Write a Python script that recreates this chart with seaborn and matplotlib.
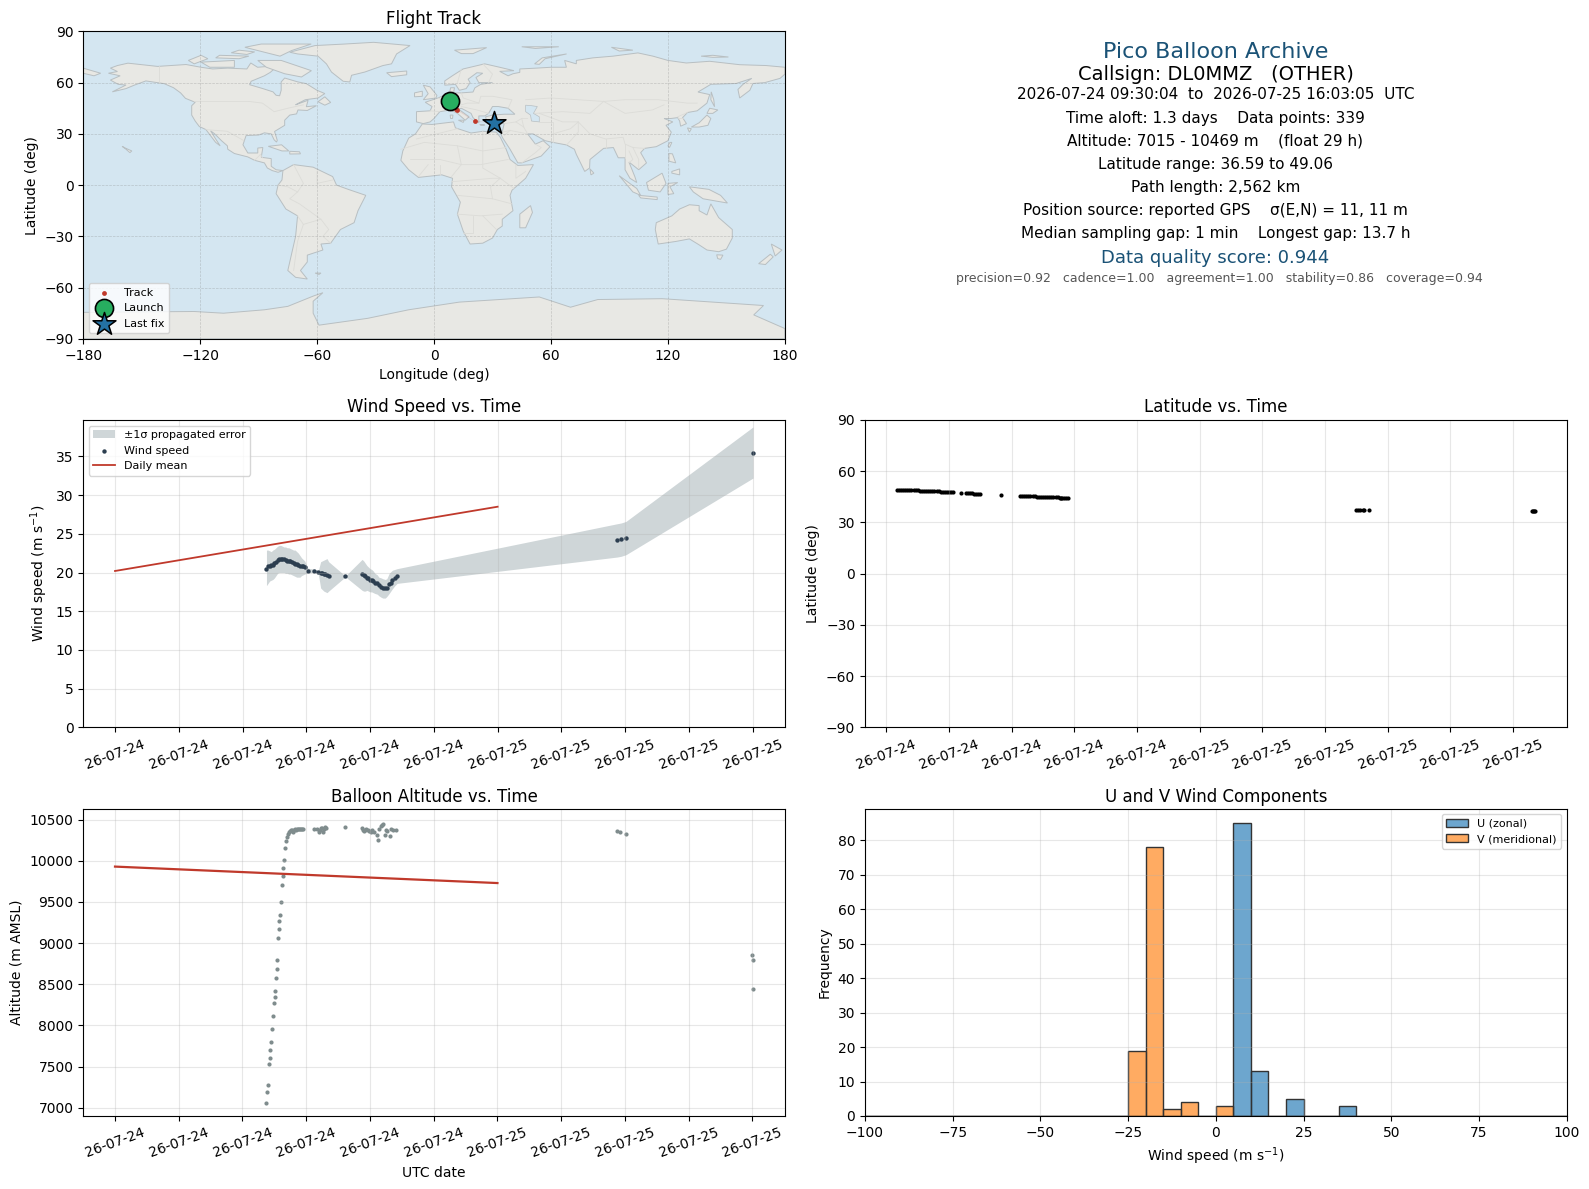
import pandas as pd
import matplotlib
matplotlib.use('Agg')
import matplotlib.pyplot as plt
import matplotlib.dates as mdates
import seaborn as sns

# Flight data (hours after 2026-07-24 00:00 UTC)
WIND_HOURS = [9.5, 9.6, 9.7, 9.8, 9.9, 10.0, 10.1, 10.2, 10.3, 10.4, 10.5, 10.6, 10.7, 10.8, 10.9, 11.0, 11.1, 11.2, 11.3, 11.4,
              11.5, 11.6, 11.7, 11.8, 11.9, 12.1, 12.5, 12.75, 12.9, 13.0, 13.1, 13.2, 13.3, 13.4, 14.45, 15.5, 15.6, 15.7, 15.8, 15.9,
              16.0, 16.1, 16.2, 16.3, 16.45, 16.55, 16.7, 16.8, 16.95, 17.05, 17.2, 17.3, 17.4, 17.55, 17.7, 31.5, 31.75, 32.05, 40.02]
WIND_SPEED = [20.5, 20.8, 20.9, 21.0, 21.0, 21.2, 21.4, 21.6, 21.8, 21.8, 21.75, 21.7, 21.65, 21.55, 21.5, 21.45, 21.35, 21.25, 21.15, 21.05,
              21.0, 20.9, 20.85, 20.8, 20.75, 20.25, 20.25, 20.05, 19.95, 19.9, 19.8, 19.75, 19.65, 19.6, 19.5, 19.8, 19.7, 19.55, 19.35, 19.25,
              19.1, 19.0, 18.85, 18.7, 18.6, 18.4, 18.1, 18.0, 18.0, 18.0, 18.5, 18.7, 19.0, 19.3, 19.5, 24.2, 24.3, 24.5, 35.5]
WIND_UPPER = [22.9, 22.9, 22.8, 22.7, 22.9, 23.0, 23.2, 23.4, 23.5, 23.5, 23.4, 23.3, 23.3, 23.2, 23.2, 23.1, 23.0, 22.9, 22.9, 22.7,
              22.5, 22.2, 21.9, 21.7, 21.5, 20.55, 20.45, 20.25, 21.4, 21.5, 21.6, 21.7, 21.8, 21.4, 19.55, 21.7, 21.5, 21.2, 20.9, 20.7,
              20.5, 20.4, 20.2, 19.9, 19.7, 19.4, 19.3, 19.2, 19.1, 19.2, 19.9, 20.1, 20.3, 20.4, 20.5, 26.3, 26.4, 26.6, 38.8]
WIND_LOWER = [18.3, 18.6, 18.9, 19.0, 19.1, 19.3, 19.6, 19.9, 20.0, 20.0, 20.0, 20.0, 19.9, 19.9, 19.8, 19.8, 19.7, 19.6, 19.5, 19.4,
              19.4, 19.4, 19.6, 19.7, 19.8, 19.95, 20.05, 19.85, 18.0, 17.8, 17.6, 17.5, 17.4, 17.6, 19.45, 17.7, 17.6, 17.6, 17.7, 17.6,
              17.5, 17.5, 17.4, 17.3, 17.2, 17.0, 16.8, 16.7, 16.7, 16.9, 17.3, 17.6, 17.9, 18.3, 18.6, 22.0, 22.1, 22.3, 32.2]

DAILY_HOURS = [0, 24]
DAILY_WIND = [20.2, 28.5]
DAILY_ALT = [9930, 9730]

LAT_HOURS = [9.5, 9.6, 9.7, 9.8, 9.9, 10.0, 10.1, 10.2, 10.3, 10.4, 10.5, 10.6, 10.7, 10.8, 10.9, 11.0, 11.1, 11.2, 11.3, 11.4, 11.5,
             11.6, 11.7, 11.8, 11.9, 12.0, 12.1, 12.2, 12.55, 12.8, 12.9, 13.0, 13.1, 13.2, 13.3, 13.4, 13.5, 14.5,
             15.4, 15.5, 15.6, 15.7, 15.8, 15.9, 16.0, 16.1, 16.2, 16.3, 16.4, 16.5, 16.6, 16.7, 16.8, 16.9, 17.0, 17.1, 17.2, 17.3,
             17.35, 17.4, 17.5, 17.6, 17.7, 31.5, 31.6, 31.7, 31.8, 31.85, 32.1, 39.9, 39.95, 40.0, 40.05]
LATITUDE = [49.1, 49.1, 49.1, 49.1, 49.1, 49.1, 49.1, 49.1, 49.1, 49.0, 48.9, 48.6, 48.5, 48.5, 48.4, 48.4, 48.4, 48.3, 48.3, 48.3, 48.2,
            48.0, 47.9, 47.9, 47.8, 47.8, 47.8, 47.8, 47.3, 47.3, 47.3, 47.2, 47.1, 46.9, 46.8, 46.7, 46.6, 46.0,
            45.5, 45.5, 45.5, 45.5, 45.5, 45.4, 45.4, 45.2, 45.0, 44.9, 44.9, 44.9, 44.8, 44.8, 44.8, 44.8, 44.8, 44.8, 44.7, 44.6,
            44.3, 44.2, 44.2, 44.2, 44.2, 37.3, 37.3, 37.3, 37.3, 37.3, 37.3, 36.7, 36.7, 36.6, 36.6]

ALT_HOURS = [9.5, 9.56, 9.625, 9.69, 9.75, 9.75, 9.81, 9.875, 9.94, 10.0, 10.06, 10.06, 10.125, 10.19, 10.19, 10.25, 10.31, 10.31, 10.375,
             10.44, 10.5, 10.56, 10.56, 10.625, 10.69, 10.75, 10.81, 10.875, 10.94, 11.0, 11.06, 11.12, 11.19, 11.25, 11.31, 11.37, 11.44, 11.5,
             11.56, 11.62, 11.69, 11.75, 11.81, 12.5, 12.7, 12.8, 12.85, 12.9, 13.0, 13.05, 13.1, 13.2, 13.25, 14.44, 15.5, 15.55, 15.6, 15.7,
             15.75, 15.85, 15.95, 16.05, 16.15, 16.25, 16.44, 16.5, 16.55, 16.7, 16.75, 16.8, 16.96, 17.0, 17.1, 17.27, 17.3, 17.45, 17.65,
             31.5, 31.7, 32.05, 40.0, 40.02, 40.04]
ALTITUDE = [7057, 7191, 7276, 7533, 7606, 7703, 7801, 7959, 8118, 8276, 8350, 8423, 8581, 8691, 8801, 9057, 9167, 9264, 9337,
            9496, 9703, 9813, 9911, 10008, 10154, 10240, 10289, 10325, 10346, 10362, 10370, 10374, 10350, 10374, 10384, 10380, 10386, 10390,
            10392, 10392, 10386, 10392, 10388, 10390, 10386, 10354, 10370, 10404, 10400, 10350, 10385, 10405, 10400, 10410, 10398, 10375, 10362, 10370,
            10385, 10375, 10360, 10345, 10375, 10350, 10317, 10252, 10385, 10427, 10440, 10447, 10317, 10375, 10360, 10305, 10385, 10370, 10375,
            10363, 10345, 10330, 8860, 8800, 8440]

# Ground track, same fixes as above but thinned
TRACK_LON = [8.3, 8.9, 9.5, 10.1, 10.7, 11.2, 11.6, 21.0, 29.9, 30.6]
TRACK_LAT = [49.1, 48.4, 47.8, 46.7, 45.5, 44.8, 44.2, 37.3, 36.7, 36.6]

# Wind component histogram (5 m/s bins)
HIST_EDGES = list(range(-100, 105, 5))
U_BIN_CENTERS = [7.5, 12.5, 22.5, 37.5]
U_COUNTS = [85, 13, 5, 3]
V_BIN_CENTERS = [-22.5, -17.5, -12.5, -7.5, 2.5]
V_COUNTS = [19, 78, 2, 4, 3]

# Coastlines, rough lon/lat outlines
NORTH_AMERICA = [(-167, 65.5), (-162.4, 66.5), (-166, 68.5), (-162.4, 70), (-157, 71.4), (-141.8, 69.5), (-127.2, 70.6), (-119.5, 69), (-113.5, 68),
                 (-105.8, 68.5), (-96, 68), (-94, 71.5), (-90.5, 69), (-85, 69.5), (-81.5, 68.5), (-84, 66), (-87, 64), (-93.8, 60.8), (-94.6, 58.8),
                 (-87.8, 56.5), (-82.6, 54.6), (-81, 52.6), (-79.2, 52.3), (-78.4, 55.5), (-78.4, 60.4), (-76.6, 62.7), (-69.8, 60.4), (-65.5, 59.4),
                 (-60, 55.5), (-56, 53.6), (-59.5, 51), (-66, 50), (-69.8, 47.8), (-71, 47), (-64.6, 49.7), (-65.5, 45.9), (-60.3, 46.5), (-65, 43.7),
                 (-69.8, 44), (-70.5, 41.7), (-74, 41), (-76.6, 38), (-76.6, 35), (-81.8, 31.4), (-80.4, 26.2), (-80.8, 25.2), (-82, 26.5), (-83.5, 30),
                 (-87, 30.6), (-90, 29.3), (-96.4, 29), (-98, 23.6), (-95.5, 18.8), (-90.4, 18.8), (-90.4, 21.7), (-87.8, 22), (-88.6, 16.3), (-83.5, 15.5),
                 (-83.5, 11), (-81, 9), (-77.5, 8.5), (-80, 7.5), (-83, 8.5), (-85.5, 10), (-87, 13), (-92, 14.5), (-95.5, 16.5), (-102.4, 18.5),
                 (-105.8, 21), (-106, 23), (-109, 26), (-112.5, 30), (-114.6, 31.8), (-112, 27), (-109.7, 23), (-112, 25), (-115, 29.5), (-117, 32.5),
                 (-120.4, 34.3), (-122.5, 37.5), (-124.3, 41), (-124.3, 46.5), (-122.5, 48.5), (-127.5, 50.8), (-130, 54), (-133.6, 57), (-138.4, 59.4),
                 (-147.8, 61), (-153.8, 58.5), (-158, 56.5), (-165, 54.6), (-158, 58.6), (-162, 59), (-166, 61.5), (-161, 64), (-167, 65.5)]
SOUTH_AMERICA = [(-77.5, 8.5), (-72, 12), (-62, 10.5), (-52, 5), (-50, 0), (-44, -2.5), (-35, -6), (-39, -15), (-41, -22), (-48, -26), (-53, -34),
                 (-58, -34.5), (-57, -38), (-65, -41), (-65, -45), (-68.5, -50), (-65, -55), (-71, -54), (-75, -50), (-73, -40), (-71, -30), (-70, -18),
                 (-76, -14), (-81, -5), (-80, 0), (-78, 3), (-77.5, 8.5)]
EURASIA = [(-9, 37), (-9, 43), (-2, 43.5), (-1, 46), (-4.5, 48.5), (2, 51), (8, 54), (8.5, 57), (10.5, 57), (10, 54), (14, 54), (20, 54.5), (21, 57),
           (24, 59), (30, 60), (23, 60), (21.5, 63), (25, 65.5), (22, 65.8), (17.5, 62), (18.5, 60), (16.5, 56.5), (13, 55.5), (11, 59), (5.5, 58.5), (5.5, 61),
           (9.8, 64.3), (14.9, 68), (26, 71), (33.7, 69), (41, 67), (33.7, 66.6), (38, 64), (40.5, 65.2), (44, 66), (44, 68), (52.6, 68.5), (60, 69),
           (67.9, 69), (67, 73), (73, 71), (73, 73), (81.5, 74.5), (91.8, 75.5), (104.6, 77.4), (112.3, 75.5), (120, 73), (129.4, 71.5), (141.4, 72.5),
           (156.8, 70.5), (170.4, 70), (180, 69), (180, 65), (177.5, 62.5), (169.6, 60), (163.6, 59.5), (162, 55.5), (156.8, 51), (155.9, 56), (158.5, 59),
           (163, 62.5), (155, 59.5), (142, 59), (135.4, 54.5), (141.4, 53), (140, 48), (135, 43.5), (130, 42.5), (127.5, 39.5), (129.5, 36), (126.5, 34.5),
           (126, 37.5), (125, 39.5), (121.5, 39), (118, 39), (122.5, 37), (119, 35), (121.7, 31), (120, 26), (114, 22.5), (108, 21.5), (106, 19), (109, 13),
           (105, 9), (100, 13.5), (103, 5), (104, 1.5), (100.5, 4), (98, 9), (98, 16), (94.5, 16), (92, 22), (87, 21.5), (80, 15), (79.8, 10), (77.3, 8),
           (73, 18), (72, 21), (68, 23.5), (61, 25), (57, 26), (50.8, 30), (48, 30), (50, 27), (52, 24), (56, 26), (59.5, 22.5), (55, 17), (45, 13), (43, 13),
           (39, 21), (35, 28), (34.5, 29.5), (35, 31), (36, 36), (31, 36.5), (27, 37), (26.5, 40), (30, 41), (36, 41.5), (41.5, 41.5), (38, 45), (33, 46),
           (30, 46), (28, 42), (26, 40.5), (23, 40.5), (23, 36.5), (20, 39.5), (19, 42), (14, 45), (12.5, 44.5), (18, 40), (16, 38), (12, 42), (8.5, 44),
           (3, 43), (0, 39), (-2, 37), (-5.5, 36), (-9, 37)]
AFRICA = [(-6, 35.8), (-1, 35.5), (10, 37), (11, 33.5), (19, 30.5), (25, 31.5), (32, 31), (34, 28), (37, 21), (39, 15), (43, 11.5), (51, 12), (47, 4),
          (40, -3), (39, -6), (40.5, -15), (35, -20), (35, -24), (32.5, -26), (30, -31), (25, -34), (18.5, -34.5), (15, -27), (12, -17), (13.5, -10),
          (9, -1), (9.5, 4), (4, 6), (-4, 5), (-8, 4.5), (-13, 9), (-17, 14.5), (-16, 20), (-13, 27.5), (-9.5, 30), (-6, 35.8)]
AUSTRALIA = [(114, -22), (122, -18), (126, -14), (131, -11.5), (136, -12), (136, -15), (140, -17.5), (142, -11), (146, -19), (153, -26), (153, -31),
             (150, -37.5), (146, -39), (140, -38), (136, -35), (131, -31.5), (124, -33), (115, -34.5), (113.5, -26), (114, -22)]
ANTARCTICA = [(-180, -74.5), (-123, -74), (-108, -75), (-87, -73), (-75, -71), (-62, -65), (-57, -63), (-62, -68), (-62, -75), (-59, -82), (-34, -78),
              (-13, -73), (13, -68.5), (54, -65.5), (70, -71.5), (84, -67), (117, -66.5), (169, -70.5), (164, -76), (180, -84), (180, -90), (-180, -90)]
GREENLAND = [(-74, 77.8), (-61, 81.7), (-45.8, 82.6), (-31, 83.6), (-12.3, 81.7), (-19.2, 76.8), (-21.8, 71), (-26.2, 70), (-35.5, 66.2), (-42.3, 64.3),
             (-43.2, 60.4), (-46.6, 60.8), (-52.6, 66.2), (-55.2, 71), (-59.5, 75.5), (-70, 76.8), (-74, 77.8)]
ISLANDS = [
    [(-90.4, 73), (-78.4, 73), (-62.9, 67), (-68, 63.3), (-76.6, 65.2), (-86, 69), (-90.4, 73)],  # Baffin
    [(-97, 80.7), (-88.6, 82.6), (-63, 82.6), (-73, 78.8), (-79, 75.5), (-87, 77.8), (-97, 80.7)],  # Ellesmere
    [(-119.5, 72), (-102.4, 73), (-102.4, 69), (-115, 69), (-119.5, 72)],  # Victoria
    [(-126, 73), (-119.5, 76), (-116, 74), (-123, 71), (-126, 73)],
    [(-110, 76), (-95, 75.5), (-100, 74), (-112, 74.5), (-110, 76)],
    [(-100, 79), (-92, 78), (-96, 76.5), (-104, 77.5), (-100, 79)],
    [(-59.5, 48.8), (-56, 51.7), (-53, 48.4), (-56, 46.8), (-59.5, 48.8)],  # Newfoundland
    [(-85, 22.7), (-78.2, 23.6), (-74.5, 20), (-78, 20), (-85, 22.7)],  # Cuba
    [(-74, 19.8), (-69, 19.5), (-68.5, 18.3), (-74, 18.2), (-74, 19.8)],
    [(-160, 22.7), (-158, 21.5), (-155, 20), (-156, 19), (-158, 21), (-160, 22.7)],  # Hawaii
    [(-180, 68.5), (-171, 65.5), (-174.4, 64), (-180, 65.5)],  # Chukotka
    [(-24.3, 65.8), (-14, 66.8), (-14, 64.6), (-21.8, 63.5), (-24.3, 65.8)],  # Iceland
    [(-5.5, 58.5), (-2, 57.5), (1.5, 52.5), (1, 51), (-5.5, 50), (-3, 53.5), (-5.5, 58.5)],  # Britain
    [(-10, 54), (-6, 55), (-6, 52), (-10, 51.7), (-10, 54)],
    [(10.5, 79), (27, 80.5), (20, 77), (14, 77), (10.5, 79)],  # Svalbard
    [(45, 81), (52, 81), (64, 81), (52, 80), (45, 81)],
    [(51.6, 71), (55.5, 74.5), (68, 76.8), (57, 74), (54, 70.7), (51.6, 71)],  # Novaya Zemlya
    [(91, 80.7), (102, 79), (95, 78.5), (91, 80.7)],
    [(137, 75.5), (143, 76), (151, 75), (143, 74.8), (137, 75.5)],
    [(142.2, 54.6), (143.5, 50), (143.9, 45.9), (142, 50), (142.2, 54.6)],  # Sakhalin
    [(141.4, 45), (145.6, 44), (143, 42), (140, 42), (141.4, 45)],  # Hokkaido
    [(140, 41), (142, 39), (140.5, 35), (136, 34), (132, 34), (136, 36.5), (140, 41)],
    [(130, 33.5), (132, 33), (131, 31), (130, 33.5)],
    [(121, 25), (122, 25), (120.8, 22), (120, 23), (121, 25)],
    [(120.5, 18.5), (122.3, 18.3), (124, 13), (120.5, 14), (120.5, 18.5)],
    [(122, 8), (126, 9.5), (126, 6), (122, 7), (122, 8)],
    [(95, 5.5), (104, -2), (106, -6), (102, -4), (95, 5.5)],  # Sumatra
    [(105, -6), (114.5, -7), (114.5, -8.5), (106, -7.5), (105, -6)],
    [(109, 1.5), (117, 7), (119, 1), (116, -4), (110, -3), (109, 1.5)],  # Borneo
    [(120, 1), (125, 1.5), (121, -1), (123, -5), (120, -5.5), (120, 1)],
    [(131, -1), (141, -2.5), (147, -6), (150.5, -10.5), (143, -9), (138, -8), (133, -4), (131, -1)],  # New Guinea
    [(49.5, -12), (50.5, -16), (47, -25), (44, -25), (44, -17), (49.5, -12)],  # Madagascar
    [(80, 9.5), (82, 7), (80.5, 6), (80, 9.5)],
    [(173, -34.5), (178.5, -38), (175, -41.5), (174, -38), (173, -34.5)],
    [(172.5, -40.5), (174, -42), (170, -46.5), (166.5, -46), (172.5, -40.5)],
    [(145, -40.8), (148.2, -41), (147, -43.5), (145.5, -43), (145, -40.8)],
    [(-61, -51.5), (-58, -51.5), (-59, -52.3), (-61, -51.5)],
    [(12.5, 38), (15.5, 38), (15, 36.7), (12.5, 38)],
    [(8.3, 41), (9.7, 41), (9.5, 39), (8.5, 39), (8.3, 41)],
    [(23.5, 35.5), (26, 35.2), (24, 35), (23.5, 35.5)],
    [(32.5, 35), (34.5, 35.5), (33.5, 34.6), (32.5, 35)],
]
CASPIAN = [(47, 46.8), (50, 46.5), (53, 46), (51, 42), (54, 40), (54, 37), (50, 37.5), (49.5, 41), (47, 43), (47, 46.8)]
BORDERS = [
    [(-141, 69.7), (-141, 60)], [(-123, 49), (-95, 49), (-88, 48), (-82, 43), (-75, 45), (-67, 47)], [(-117, 32.5), (-106, 31.5), (-97.5, 26)],
    [(-92, 14.5), (-89, 18), (-88, 16)], [(-72, 12), (-67, 1), (-70, -4), (-74, -8), (-69, -11), (-58, -20), (-54, -26), (-57, -30), (-53, -34)],
    [(-70, -18), (-67, -23), (-70, -33), (-72, -50)], [(-60, 8), (-60, 1), (-52, 3)], [(-67, -23), (-58, -20)], [(-80, 0), (-75, -1), (-70, -4)],
    [(-17, 21), (-5, 25), (12, 23), (25, 20), (37, 22)], [(25, 31.5), (25, 10), (34, 4), (41, -2)], [(-9, 27), (12, 33)], [(12, 23), (14, 12), (9, 5)],
    [(-12, 15), (3, 15), (14, 12), (24, 12), (38, 15)], [(-8, 5), (-3, 12)], [(3, 6), (3, 12)], [(9, 2), (30, 4), (34, 4)], [(12, -6), (30, -8), (40, -11)],
    [(30, -8), (29, -1), (34, 4)], [(12, -17), (24, -18), (35, -17)], [(20, -18), (20, -28), (15, -28)], [(25, -18), (32, -26)], [(42, 12), (42, 4), (47, 8)],
    [(-2, 43.5), (3, 43)], [(2, 51), (8, 48), (7, 44)], [(8, 54), (7, 50), (8, 48), (14, 47), (17, 48), (23, 48), (24, 52), (30, 52), (40, 50), (38, 45)],
    [(14, 54), (15, 51), (23, 48)], [(28, 42), (22, 44), (14, 46)], [(28, 60), (30, 65), (25, 71)], [(14, 68), (12, 60)],
    [(36, 36), (42, 37), (45, 39), (48, 39)], [(35, 31), (39, 32), (48, 30)], [(42, 37), (46, 34), (48, 30)], [(45, 39), (46, 34)], [(61, 25), (61, 37), (54, 37)],
    [(61, 30), (70, 33), (74, 37), (66, 37), (54, 42)], [(52, 42), (66, 43), (80, 42), (87, 49), (60, 51), (47, 50)], [(87, 49), (98, 50), (115, 50), (130, 48), (135, 48)],
    [(87, 49), (98, 42), (112, 44), (118, 47)], [(74, 37), (80, 30), (88, 27), (97, 28), (98, 24), (102, 22), (108, 21.5)], [(68, 23.5), (74, 31), (74, 37)],
    [(88, 27), (88, 22)], [(98, 24), (98, 16)], [(102, 22), (105, 15), (105, 10)], [(100, 20), (102, 15), (100, 13)], [(127.5, 39.5), (125, 39.5)], [(130, 42.5), (125, 40)],
    [(45, 13), (52, 19), (55, 22), (52, 24)], [(39, 32), (36, 29)],
]

MONTH_FMT = '%y-%m-%d'
RED = '#c0392b'
NAVY = '#1a5276'
OCEAN = '#d4e6f1'


def to_times(hours):
    return pd.Timestamp('2026-07-24') + pd.to_timedelta(hours, unit='h')


def style_time_axis(ax, interval):
    ax.xaxis.set_major_locator(mdates.HourLocator(byhour=range(0, 24, interval)))
    ax.xaxis.set_major_formatter(mdates.DateFormatter(MONTH_FMT))
    ax.tick_params(axis='x', labelrotation=20)
    ax.grid(True, alpha=0.3)
    ax.set_xlabel('')


def draw_map(ax):
    ax.set_facecolor(OCEAN)
    for shape in [NORTH_AMERICA, SOUTH_AMERICA, EURASIA, AFRICA, AUSTRALIA, ANTARCTICA, GREENLAND] + ISLANDS:
        ax.fill(*zip(*shape), facecolor='#e8e8e4', edgecolor='#b8bfc2', linewidth=0.7, zorder=1)
    ax.fill(*zip(*CASPIAN), facecolor=OCEAN, edgecolor='#b8bfc2', linewidth=0.5, zorder=1)
    for line in BORDERS:
        ax.plot(*zip(*line), color='#dcdcd8', linewidth=0.6, zorder=1.5)

    ax.plot(TRACK_LON, TRACK_LAT, color=RED, linewidth=0.5, alpha=0.15, zorder=2)
    sns.scatterplot(x=TRACK_LON, y=TRACK_LAT, ax=ax, s=12, color=RED, linewidth=0, label='Track', zorder=3)
    sns.scatterplot(x=TRACK_LON[:1], y=TRACK_LAT[:1], ax=ax, s=170, color='#27ae60', edgecolor='black', linewidth=1.2,
                    label='Launch', zorder=5)
    sns.scatterplot(x=TRACK_LON[-1:], y=TRACK_LAT[-1:], ax=ax, s=300, marker='*', color='#2471a3', edgecolor='black', linewidth=1.1,
                    label='Last fix', zorder=5)
    ax.set_xlim(-180, 180)
    ax.set_ylim(-90, 90)
    ax.set_xticks(range(-180, 181, 60))
    ax.set_yticks(range(-90, 91, 30))
    ax.grid(True, color='gray', linestyle='--', linewidth=0.5, alpha=0.35, zorder=1.8)
    ax.set_xlabel('Longitude (deg)')
    ax.set_ylabel('Latitude (deg)')
    ax.set_title('Flight Track', pad=5)
    ax.legend(loc='lower left', fontsize=8)


def draw_summary(ax):
    ax.axis('off')
    lines = [
        (0.4995, 0.934, 'Pico Balloon Archive', 16, NAVY),
        (0.4995, 0.861, 'Callsign: DL0MMZ   (OTHER)', 14, 'black'),
        (0.4995, 0.795, '2026-07-24 09:30:04  to  2026-07-25 16:03:05  UTC', 11, 'black'),
        (0.4995, 0.716, 'Time aloft: 1.3 days    Data points: 339', 11, 'black'),
        (0.4995, 0.644, 'Altitude: 7015 - 10469 m    (float 29 h)', 11, 'black'),
        (0.4995, 0.568, 'Latitude range: 36.59 to 49.06', 11, 'black'),
        (0.4995, 0.492, 'Path length: 2,562 km', 11, 'black'),
        (0.4995, 0.419, 'Position source: reported GPS    σ(E,N) = 11, 11 m', 11, 'black'),
        (0.4995, 0.343, 'Median sampling gap: 1 min    Longest gap: 13.7 h', 11, 'black'),
        (0.4995, 0.264, 'Data quality score: 0.944', 13, NAVY),
        (0.5055, 0.195, 'precision=0.92   cadence=1.00   agreement=1.00   stability=0.86   coverage=0.94', 9, '#555555'),
    ]
    for x, y, text, size, color in lines:
        ax.text(x, y, text, transform=ax.transAxes, ha='center', va='center', fontsize=size, color=color)


def draw_wind(ax):
    times = to_times(WIND_HOURS)
    ax.fill_between(times, WIND_LOWER, WIND_UPPER, color='#768a90', alpha=0.35, linewidth=0, label='±1σ propagated error')
    sns.scatterplot(x=times, y=WIND_SPEED, ax=ax, s=10, color='#2c3e50', linewidth=0, label='Wind speed')
    sns.lineplot(x=to_times(DAILY_HOURS), y=DAILY_WIND, ax=ax, color=RED, linewidth=1.3, label='Daily mean')
    style_time_axis(ax, 4)
    ax.set_ylim(0, 39.7)
    ax.set_ylabel('Wind speed (m s$^{-1}$)')
    ax.set_title('Wind Speed vs. Time')
    ax.legend(loc='upper left', fontsize=8)


def draw_latitude(ax):
    sns.scatterplot(x=to_times(LAT_HOURS), y=LATITUDE, ax=ax, s=9, color='black', linewidth=0)
    style_time_axis(ax, 3)
    ax.set_ylim(-90, 90)
    ax.set_yticks(range(-90, 91, 30))
    ax.set_ylabel('Latitude (deg)')
    ax.set_title('Latitude vs. Time')


def draw_altitude(ax):
    sns.scatterplot(x=to_times(ALT_HOURS), y=ALTITUDE, ax=ax, s=9, color='#7f8c8d', linewidth=0)
    sns.lineplot(x=to_times(DAILY_HOURS), y=DAILY_ALT, ax=ax, color=RED, linewidth=1.6)
    style_time_axis(ax, 4)
    ax.set_ylim(6900, 10635)
    ax.set_xlabel('UTC date')
    ax.set_ylabel('Altitude (m AMSL)')
    ax.set_title('Balloon Altitude vs. Time', pad=5)


def draw_components(ax):
    sns.histplot(x=U_BIN_CENTERS, weights=U_COUNTS, bins=HIST_EDGES, ax=ax, color='tab:blue', alpha=0.65,
                 edgecolor='#333333', linewidth=1, label='U (zonal)')
    sns.histplot(x=V_BIN_CENTERS, weights=V_COUNTS, bins=HIST_EDGES, ax=ax, color='tab:orange', alpha=0.65,
                 edgecolor='#333333', linewidth=1, label='V (meridional)')
    ax.set_xlim(-100, 100)
    ax.set_ylim(0, 89.25)
    ax.grid(True, alpha=0.3)
    ax.set_xlabel('Wind speed (m s$^{-1}$)')
    ax.set_ylabel('Frequency')
    ax.set_title('U and V Wind Components', pad=5)
    ax.legend(loc='upper right', fontsize=8)


def main():
    fig, axes = plt.subplots(3, 2, figsize=(15.89, 11.89), dpi=100)
    fig.subplots_adjust(left=0.0523, right=0.986, top=0.9736, bottom=0.0614, wspace=0.114, hspace=0.264)

    draw_map(axes[0, 0])
    draw_summary(axes[0, 1])
    draw_wind(axes[1, 0])
    draw_latitude(axes[1, 1])
    draw_altitude(axes[2, 0])
    draw_components(axes[2, 1])

    fig.savefig('out.png', dpi=100)


if __name__ == '__main__':
    main()
